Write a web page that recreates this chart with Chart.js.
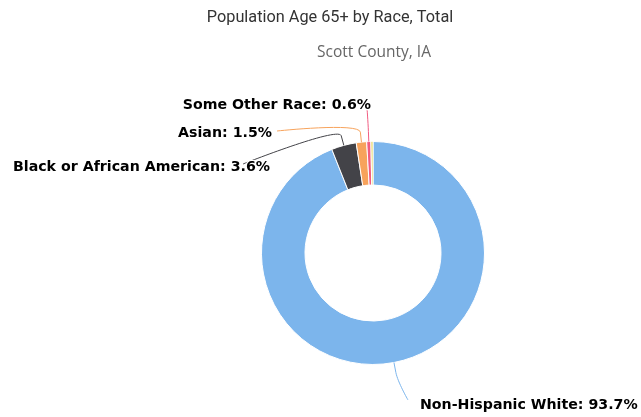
<!DOCTYPE html>
<html>
<head>
<meta charset="utf-8">
<title>Population Age 65+ by Race, Total</title>
<script src="https://cdn.jsdelivr.net/npm/chart.js@4/dist/chart.umd.min.js"></script>
<style>
  html, body { margin: 0; padding: 0; background: #fff; }
  #wrap { width: 641px; height: 417px; }
</style>
</head>
<body>
<div id="wrap"><canvas id="race-chart" width="641" height="417"></canvas></div>
<script>
// ---- data ----
const chartTitle = 'Population Age 65+ by Race, Total';
const chartSubtitle = 'Scott County, IA';
const categories = ['Non-Hispanic White', 'Black or African American', 'Asian', 'Some Other Race', 'Two or More Races'];
const shares = [93.7, 3.6, 1.5, 0.6, 0.3];
const sliceColors = ['#7cb5ec', '#434348', '#f7a35c', '#f15c80', '#e4d354'];

// label placement, relative to the pie centre (text anchor + where the connector ends)
const labelLayout = [
  { dx: 47,   dy: 152,  align: 'left',  ex: 35,   ey: 147 },
  { dx: -103, dy: -86,  align: 'right', ex: -130, ey: -89 },
  { dx: -101, dy: -120, align: 'right', ex: -96,  ey: -122 },
  { dx: -2,   dy: -148, align: 'right', ex: -6,   ey: -145 },
  null
];

// ---- titles ----
const titlePlugin = {
  id: 'titles',
  afterDraw(chart) {
    const ctx = chart.ctx;
    ctx.save();
    ctx.textAlign = 'center';
    ctx.textBaseline = 'middle';
    ctx.fillStyle = '#333333';
    ctx.font = '16.3px Roboto, sans-serif';
    ctx.fillText(chartTitle, 330, 18);
    ctx.fillStyle = '#666666';
    ctx.font = '15.5px "Open Sans", sans-serif';
    ctx.fillText(chartSubtitle, 374, 53);
    ctx.restore();
  }
};

// ---- data labels with soft connectors ----
const sliceLabels = {
  id: 'sliceLabels',
  afterDatasetsDraw(chart) {
    const ctx = chart.ctx;
    const meta = chart.getDatasetMeta(0);
    ctx.save();
    meta.data.forEach((arc, i) => {
      const lay = labelLayout[i];
      if (!lay || shares[i] < 0.5) return;
      const p = arc.getProps(['x', 'y', 'startAngle', 'endAngle', 'outerRadius'], true);
      const mid = (p.startAngle + p.endAngle) / 2;
      const cos = Math.cos(mid), sin = Math.sin(mid);
      const edge = { x: p.x + cos * p.outerRadius, y: p.y + sin * p.outerRadius };
      const brk = { x: p.x + cos * (p.outerRadius + 10), y: p.y + sin * (p.outerRadius + 10) };
      const end = { x: p.x + lay.ex, y: p.y + lay.ey };

      ctx.beginPath();
      ctx.moveTo(end.x, end.y);
      ctx.bezierCurveTo(end.x, end.y, 2 * brk.x - edge.x, 2 * brk.y - edge.y, brk.x, brk.y);
      ctx.lineTo(edge.x, edge.y);
      ctx.strokeStyle = sliceColors[i];
      ctx.lineWidth = 1;
      ctx.stroke();

      const text = categories[i] + ': ' + shares[i].toFixed(1) + '%';
      ctx.font = 'bold 14.2px "DejaVu Sans", sans-serif';
      ctx.textAlign = lay.align;
      ctx.textBaseline = 'middle';
      ctx.lineJoin = 'round';
      ctx.strokeStyle = '#ffffff';
      ctx.lineWidth = 2.5;
      ctx.strokeText(text, p.x + lay.dx, p.y + lay.dy);
      ctx.fillStyle = '#000000';
      ctx.fillText(text, p.x + lay.dx, p.y + lay.dy);
    });
    ctx.restore();
  }
};

const ctxRace = document.getElementById('race-chart').getContext('2d');
const raceChart = new Chart(ctxRace, {
  type: 'doughnut',
  data: {
    labels: categories,
    datasets: [{ data: shares, backgroundColor: sliceColors, borderColor: '#ffffff', borderWidth: 1 }]
  },
  options: {
    responsive: false,
    animation: false,
    cutout: '61%',
    layout: { padding: { left: 261, right: 156, top: 141, bottom: 52 } },
    plugins: { legend: { display: false }, tooltip: { enabled: false }, title: { display: false } }
  },
  plugins: [titlePlugin, sliceLabels]
});
</script>
</body>
</html>
